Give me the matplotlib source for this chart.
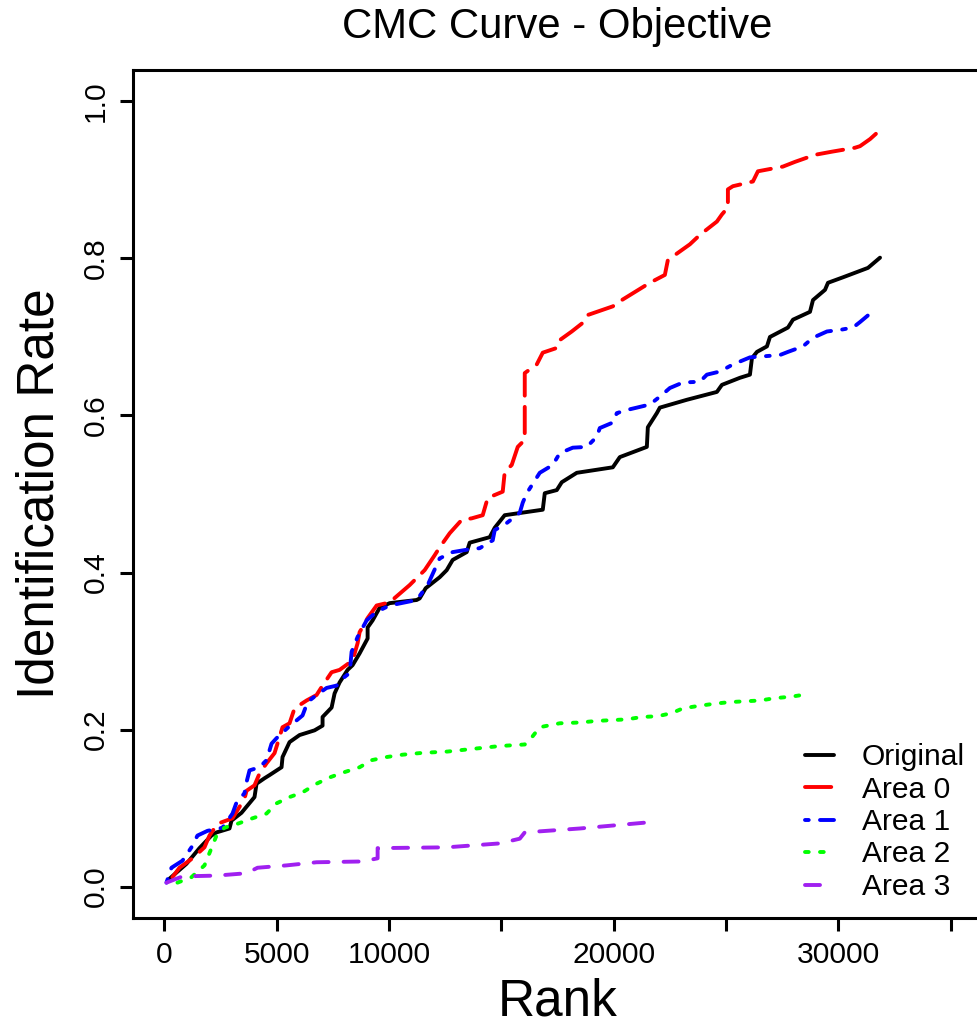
import matplotlib
matplotlib.use("Agg")
import matplotlib.pyplot as plt

plt.rcParams['font.family'] = ['Liberation Sans', 'DejaVu Sans']
plt.rcParams['lines.scale_dashes'] = False

# ---- CMC data: rank vs identification rate ----
rank_original = [223, 980, 1560, 2094, 2317, 2896, 2986, 3431, 4010, 4100, 4456, 4679,
                 5214, 5258, 5570, 6016, 6684, 7040, 7040, 7442, 7575, 7798, 8155, 8377,
                 8689, 9046, 9046, 9268, 9580, 10026, 11229, 11363, 11630, 12254, 12566,
                 12833, 13457, 13591, 14482, 14705, 15150, 16844, 16933, 17468, 17690,
                 18359, 19963, 20275, 21478, 21522, 21923, 22057, 23260, 24597, 24820,
                 25622, 26068, 26157, 26380, 26825, 26959, 27761, 27984, 28741, 28875,
                 29410, 29543, 30212, 31325, 31860]
rate_original = [0.010, 0.029, 0.049, 0.065, 0.069, 0.074, 0.084, 0.094, 0.114, 0.131,
                 0.138, 0.142, 0.152, 0.165, 0.184, 0.193, 0.199, 0.205, 0.216, 0.228,
                 0.246, 0.260, 0.276, 0.282, 0.297, 0.316, 0.330, 0.339, 0.355, 0.361,
                 0.365, 0.367, 0.380, 0.394, 0.403, 0.416, 0.426, 0.438, 0.445, 0.457,
                 0.473, 0.480, 0.501, 0.505, 0.515, 0.527, 0.534, 0.547, 0.560, 0.585,
                 0.603, 0.610, 0.620, 0.630, 0.639, 0.648, 0.652, 0.673, 0.681, 0.688,
                 0.700, 0.712, 0.722, 0.732, 0.747, 0.760, 0.769, 0.776, 0.788, 0.801]

rank_area0 = [356, 668, 1248, 1782, 2005, 2362, 3030, 3565, 3654, 4010, 4233, 4545, 4902,
              5258, 5570, 5793, 6328, 6773, 7040, 7442, 7798, 8377, 8600, 8689, 9046,
              9447, 10026, 10917, 11585, 12031, 12254, 12700, 13234, 13680, 14170, 14393,
              15061, 15150, 15462, 15730, 16042, 16042, 16576, 16844, 17468, 17601,
              18136, 18626, 18849, 19963, 20364, 21612, 22280, 22414, 23394, 23840,
              24151, 24597, 24820, 25087, 25087, 25310, 26201, 26424, 27538, 28073,
              28964, 29722, 30746, 30969, 31415, 31727, 31949]
rate_area0 = [0.012, 0.024, 0.036, 0.050, 0.065, 0.080, 0.087, 0.112, 0.122, 0.129,
              0.144, 0.157, 0.170, 0.203, 0.208, 0.227, 0.237, 0.244, 0.256, 0.273,
              0.276, 0.288, 0.310, 0.324, 0.342, 0.358, 0.362, 0.384, 0.403, 0.422,
              0.432, 0.450, 0.467, 0.469, 0.473, 0.495, 0.503, 0.528, 0.537, 0.560,
              0.569, 0.654, 0.665, 0.680, 0.686, 0.696, 0.707, 0.718, 0.728, 0.739,
              0.747, 0.769, 0.779, 0.798, 0.818, 0.830, 0.837, 0.847, 0.856, 0.865,
              0.888, 0.892, 0.898, 0.911, 0.917, 0.923, 0.932, 0.936, 0.941, 0.943,
              0.952, 0.960, 0.967]

rank_area1 = [89, 312, 802, 1203, 1470, 1916, 2584, 3030, 3208, 3565, 3654, 3788, 4233,
              4545, 4768, 4991, 5481, 6149, 6372, 6773, 7219, 7664, 7932, 8244, 8333,
              8600, 9001, 9447, 10026, 11229, 11719, 12254, 12833, 13457, 14036, 14616,
              14705, 15239, 15819, 15953, 16131, 16710, 17289, 17601, 18181, 18804,
              19250, 19384, 19963, 20141, 20587, 21032, 21612, 22057, 22503, 23082,
              23840, 24151, 24731, 25310, 26068, 26513, 27404, 27761, 28429, 28875,
              29499, 30078, 30657, 30969, 31637]
rate_area1 = [0.005, 0.024, 0.033, 0.050, 0.065, 0.071, 0.075, 0.093, 0.107, 0.119,
              0.133, 0.148, 0.152, 0.161, 0.182, 0.189, 0.202, 0.218, 0.235, 0.244,
              0.253, 0.256, 0.265, 0.272, 0.299, 0.318, 0.339, 0.350, 0.358, 0.365,
              0.384, 0.418, 0.426, 0.429, 0.431, 0.441, 0.454, 0.463, 0.476, 0.489,
              0.501, 0.527, 0.537, 0.552, 0.559, 0.560, 0.573, 0.584, 0.591, 0.603,
              0.607, 0.610, 0.614, 0.624, 0.635, 0.642, 0.643, 0.652, 0.656, 0.665,
              0.674, 0.675, 0.677, 0.681, 0.688, 0.699, 0.707, 0.709, 0.712, 0.719,
              0.735]

rank_area2 = [579, 1203, 1782, 2094, 2317, 2674, 3253, 3921, 4545, 4991, 5570, 6149,
              6773, 7352, 7932, 8689, 9224, 9892, 10605, 11363, 11942, 12610, 13591,
              14928, 16042, 16354, 16710, 17601, 18493, 19250, 19918, 20587, 21255,
              21968, 22592, 23082, 23751, 24508, 25176, 25845, 26513, 27181, 27939,
              28607]
rate_area2 = [0.005, 0.012, 0.027, 0.049, 0.065, 0.075, 0.080, 0.087, 0.093, 0.106,
              0.114, 0.120, 0.131, 0.139, 0.145, 0.152, 0.161, 0.165, 0.168, 0.170,
              0.171, 0.172, 0.175, 0.179, 0.181, 0.190, 0.203, 0.208, 0.209, 0.211,
              0.212, 0.213, 0.216, 0.217, 0.221, 0.227, 0.230, 0.233, 0.235, 0.236,
              0.237, 0.240, 0.242, 0.245]

rank_area3 = [89, 802, 2317, 3654, 4144, 5436, 6773, 8823, 9491, 9491, 12566, 14928,
              15819, 16042, 18493, 20052, 21612]
rate_area3 = [0.005, 0.013, 0.014, 0.017, 0.024, 0.027, 0.031, 0.032, 0.036, 0.049,
              0.050, 0.055, 0.061, 0.069, 0.074, 0.078, 0.082]

series_labels = ["Original", "Area 0", "Area 1", "Area 2", "Area 3"]
series_colors = ["black", "#FF0000", "#0000FF", "#00FF00", "#A020F0"]

x_ticks = [0, 5000, 10000, 15000, 20000, 25000, 30000, 35000]
x_tick_labels = ["0", "5000", "10000", "", "20000", "", "30000", ""]
y_ticks = [0.0, 0.2, 0.4, 0.6, 0.8, 1.0]
y_tick_labels = ["0.0", "0.2", "0.4", "0.6", "0.8", "1.0"]

# ---- figure ----
W, H = 977, 1024
fig = plt.figure(figsize=(W / 100, H / 100), dpi=100)
ax = fig.add_axes([133 / W, (H - 918) / H, (982 - 133) / W, (918 - 70) / H])

unit = 2.7   # dash unit in points
lw = 2.8
styles = [
    "-",
    (0, (7 * unit, 3 * unit)),
    (0, (1 * unit, 3 * unit, 4 * unit, 3 * unit)),
    (0, (1 * unit, 3 * unit)),
    (0, (4 * unit, 4 * unit)),
]
data = [(rank_original, rate_original), (rank_area0, rate_area0),
        (rank_area1, rate_area1), (rank_area2, rate_area2),
        (rank_area3, rate_area3)]

handles = []
for (xs, ys), lab, col, ls in zip(data, series_labels, series_colors, styles):
    ln, = ax.plot(xs, ys, color=col, lw=lw, linestyle=ls,
                  dash_capstyle="round", solid_capstyle="round",
                  solid_joinstyle="round", dash_joinstyle="round", label=lab)
    handles.append(ln)

ax.set_xlim(-1400, 36400)
ax.set_ylim(-0.04, 1.04)

ax.set_xticks(x_ticks)
ax.set_xticklabels(x_tick_labels)
ax.set_yticks(y_ticks)
ax.set_yticklabels(y_tick_labels, rotation=90, va="center")

ax.tick_params(axis="both", direction="out", length=9.4, width=2.2,
               labelsize=21.6, color="black")
ax.tick_params(axis="x", pad=7.5)
ax.tick_params(axis="y", pad=7.5)

for side in ["left", "bottom", "top", "right"]:
    ax.spines[side].set_linewidth(2.2)

ax.set_title("CMC Curve - Objective", fontsize=30.2, y=(918 - 38) / 848,
             pad=0, va="baseline")
ax.set_xlabel("Rank", fontsize=37)
ax.xaxis.set_label_coords(0.5, (918 - 1015) / 848)
ax.xaxis.label.set_va("baseline")
ax.set_ylabel("Identification Rate", fontsize=37)
ax.yaxis.set_label_coords((53 - 133) / 849, 0.5)
ax.yaxis.label.set_rotation_mode("anchor")
ax.yaxis.label.set_va("baseline")
ax.yaxis.label.set_ha("center")

ax.legend(handles=handles, loc="upper left",
          bbox_to_anchor=(805 / W, (H - 743) / H), bbox_transform=fig.transFigure,
          frameon=False, fontsize=21.6, handlelength=0.95, handletextpad=0.95,
          labelspacing=0.15, borderpad=0, borderaxespad=0)

fig.savefig("out.png", dpi=100)
